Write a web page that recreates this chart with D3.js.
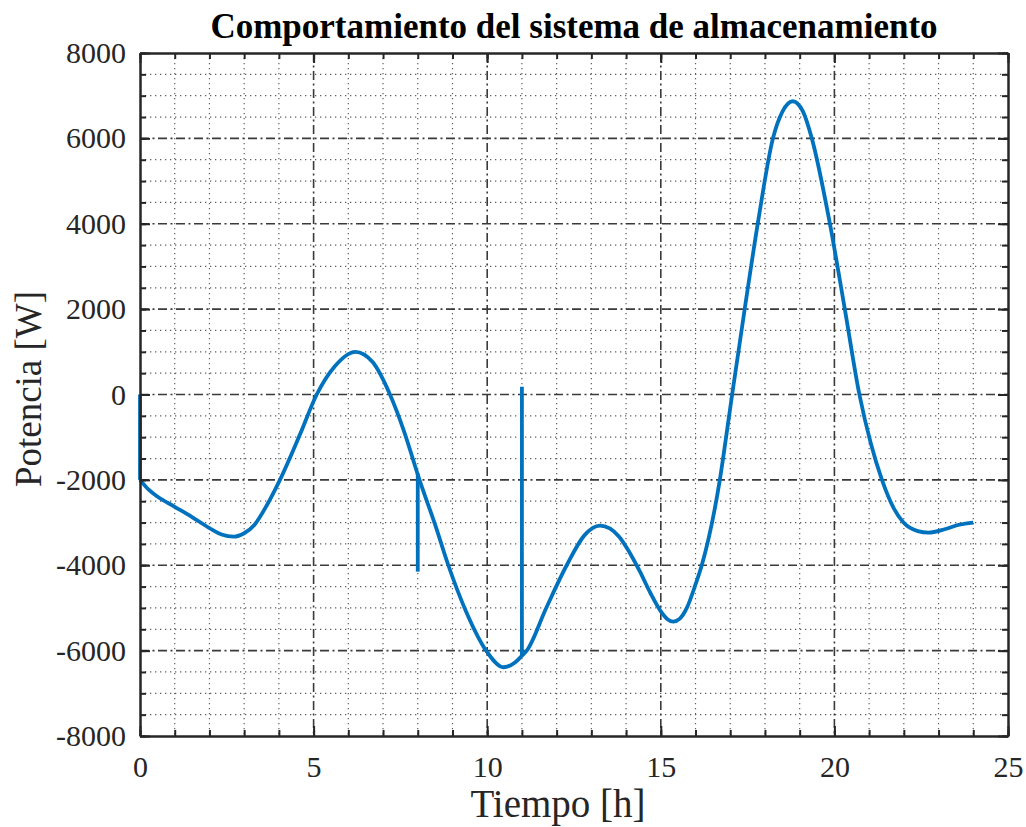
<!DOCTYPE html>
<html>
<head>
<meta charset="utf-8">
<script src="https://cdn.jsdelivr.net/npm/d3@7"></script>
<style>
  body { margin: 0; background: #fff; }
  text { font-family: "Liberation Serif", "Times New Roman", serif; fill: #262626; }
</style>
</head>
<body>
<svg id="chart" width="1026" height="827"></svg>
<script>
// chart size + plot box
const WIDTH = 1026
const HEIGHT = 827
const MARGIN = {left: 140, right: 18, top: 53, bottom: 91}

// storage power over the day
const hours = [0, 0.25, 0.5, 1.0, 1.5, 2.0, 2.35, 2.7, 3.0, 3.3, 3.65, 4.03, 4.6, 5.09, 5.6, 6.2, 6.7, 7.2, 7.6, 8.05,
  8.5, 8.88, 9.4, 9.97, 10.47, 10.8, 11.0, 11.14, 11.7, 12.29, 12.8, 13.25, 13.8, 14.1, 14.4, 14.7, 15.0, 15.2, 15.36,
  15.55, 15.75, 16.0, 16.18, 16.7, 16.95, 17.06, 17.42, 17.81, 18.23, 18.5, 18.8, 19.1, 19.35, 19.85, 20.3, 20.72,
  21.05, 21.37, 21.7, 21.99, 22.4, 22.71, 23.2, 23.6, 24.0]
const power = [-2000, -2230, -2390, -2630, -2870, -3130, -3280, -3330, -3250, -3050, -2600, -2000, -950, 0, 650, 1000, 760, 0, -850, -2000,
  -3050, -4000, -5100, -6000, -6390, -6280, -6120, -6000, -5000, -4000, -3300, -3073, -3330, -3700, -4150, -4650, -5080, -5270, -5320,
  -5250, -5000, -4450, -4000, -2000, -600, 30, 2020, 4090, 6000, 6620, 6870, 6620, 6000, 4090, 2000, 0,
  -1150, -2000, -2650, -3000, -3200, -3236, -3150, -3050, -3000]

// the vertical jumps (switching events)
const jumpHours = [0, 8, 11]
const jumpFrom = [0, -1850, -6120]
const jumpTo = [-2000, -4150, 180]

const xTicks = [0, 5, 10, 15, 20, 25]
const yTicks = [-8000, -6000, -4000, -2000, 0, 2000, 4000, 6000, 8000]
const xMinor = d3.range(0, 26, 1)
const yMinor = d3.range(-8000, 8001, 500)

const titleText = "Comportamiento del sistema de almacenamiento"
const xLabel = "Tiempo [h]"
const yLabel = "Potencia [W]"

let svg = d3.select("#chart")

let xScale = d3.scaleLinear()
  .domain([0, 25])
  .range([MARGIN.left, WIDTH - MARGIN.right])

let yScale = d3.scaleLinear()
  .domain([-8000, 8000])
  .range([HEIGHT - MARGIN.bottom, MARGIN.top])

const x0 = MARGIN.left, x1 = WIDTH - MARGIN.right
const y0 = MARGIN.top, y1 = HEIGHT - MARGIN.bottom

svg.append("rect").attr("width", WIDTH).attr("height", HEIGHT).attr("fill", "#fff")

// minor grid (dotted)
let grid = svg.append("g").attr("id", "grid")
grid.selectAll(".vminor")
  .data(xMinor.filter(d => !xTicks.includes(d)))
  .join("line")
  .attr("x1", d => xScale(d)).attr("x2", d => xScale(d))
  .attr("y1", y0).attr("y2", y1)
  .attr("stroke", "#5e5e5e").attr("stroke-width", 1.2)
  .attr("stroke-dasharray", "1.3,3.7")
grid.selectAll(".hminor")
  .data(yMinor.filter(d => !yTicks.includes(d)))
  .join("line")
  .attr("x1", x0).attr("x2", x1)
  .attr("y1", d => yScale(d)).attr("y2", d => yScale(d))
  .attr("stroke", "#5e5e5e").attr("stroke-width", 1.2)
  .attr("stroke-dasharray", "1.3,3.7")

// major grid (dash-dot)
grid.selectAll(".vmajor")
  .data(xTicks.slice(1, -1))
  .join("line")
  .attr("x1", d => xScale(d)).attr("x2", d => xScale(d))
  .attr("y1", y0).attr("y2", y1)
  .attr("stroke", "#3a3a3a").attr("stroke-width", 1.6)
  .attr("stroke-dasharray", "9,3.5,2,3.5")
grid.selectAll(".hmajor")
  .data(yTicks.slice(1, -1))
  .join("line")
  .attr("x1", x0).attr("x2", x1)
  .attr("y1", d => yScale(d)).attr("y2", d => yScale(d))
  .attr("stroke", "#3a3a3a").attr("stroke-width", 1.6)
  .attr("stroke-dasharray", "9,3.5,2,3.5")

// data line
let points = hours.map((h, i) => [h, power[i]])
let lineGen = d3.line()
  .x(d => xScale(d[0]))
  .y(d => yScale(d[1]))
  .curve(d3.curveMonotoneX)

let lines = svg.append("g").attr("id", "lines")
lines.append("path")
  .attr("d", lineGen(points))
  .attr("fill", "none")
  .attr("stroke", "#0072BD")
  .attr("stroke-width", 3.8)
  .attr("stroke-linejoin", "round")

lines.selectAll(".jump")
  .data(jumpHours)
  .join("path")
  .attr("d", (d, i) => d3.line().x(p => xScale(p[0])).y(p => yScale(p[1]))([[d, jumpFrom[i]], [d, jumpTo[i]]]))
  .attr("fill", "none")
  .attr("stroke", "#0072BD")
  .attr("stroke-width", 3.8)

// axes, ticks pointing inwards on all four sides
function styleAxis(g) {
  g.selectAll("path").attr("stroke", "#262626").attr("stroke-width", 2)
  g.selectAll("line").attr("stroke", "#262626").attr("stroke-width", 2)
  g.selectAll("text").attr("font-size", 30).attr("fill", "#262626")
    .attr("font-family", "Liberation Serif, Times New Roman, serif")
}

svg.append("g")
  .attr("transform", `translate(0, ${y1})`)
  .call(d3.axisBottom(xScale).tickValues(xMinor).tickSize(-6).tickFormat("").tickSizeOuter(0))
  .call(styleAxis)
svg.append("g")
  .attr("id", "x-axis")
  .attr("transform", `translate(0, ${y1})`)
  .call(d3.axisBottom(xScale).tickValues(xTicks).tickSize(-10).tickPadding(20).tickSizeOuter(0)
    .tickFormat(d => String(d)))
  .call(styleAxis)
svg.append("g")
  .attr("transform", `translate(0, ${y0})`)
  .call(d3.axisTop(xScale).tickValues(xMinor).tickSize(-6).tickFormat("").tickSizeOuter(0))
  .call(styleAxis)
svg.append("g")
  .attr("transform", `translate(0, ${y0})`)
  .call(d3.axisTop(xScale).tickValues(xTicks).tickSize(-10).tickFormat("").tickSizeOuter(0))
  .call(styleAxis)

svg.append("g")
  .attr("transform", `translate(${x0}, 0)`)
  .call(d3.axisLeft(yScale).tickValues(yMinor).tickSize(-6).tickFormat("").tickSizeOuter(0))
  .call(styleAxis)
svg.append("g")
  .attr("id", "y-axis")
  .attr("transform", `translate(${x0}, 0)`)
  .call(d3.axisLeft(yScale).tickValues(yTicks).tickSize(-10).tickPadding(14).tickSizeOuter(0)
    .tickFormat(d => String(d)))
  .call(styleAxis)
svg.append("g")
  .attr("transform", `translate(${x1}, 0)`)
  .call(d3.axisRight(yScale).tickValues(yMinor).tickSize(-6).tickFormat("").tickSizeOuter(0))
  .call(styleAxis)
svg.append("g")
  .attr("transform", `translate(${x1}, 0)`)
  .call(d3.axisRight(yScale).tickValues(yTicks).tickSize(-10).tickFormat("").tickSizeOuter(0))
  .call(styleAxis)

// labels
svg.append("text")
  .attr("x", (x0 + x1) / 2)
  .attr("y", 38)
  .attr("text-anchor", "middle")
  .attr("font-size", 35)
  .attr("font-weight", "bold")
  .style("fill", "#000")
  .text(titleText)

svg.append("text")
  .attr("x", 558)
  .attr("y", 817)
  .attr("text-anchor", "middle")
  .attr("font-size", 39)
  .text(xLabel)

svg.append("text")
  .attr("transform", `translate(41, 389) rotate(-90)`)
  .attr("text-anchor", "middle")
  .attr("font-size", 37)
  .text(yLabel)
</script>
</body>
</html>
